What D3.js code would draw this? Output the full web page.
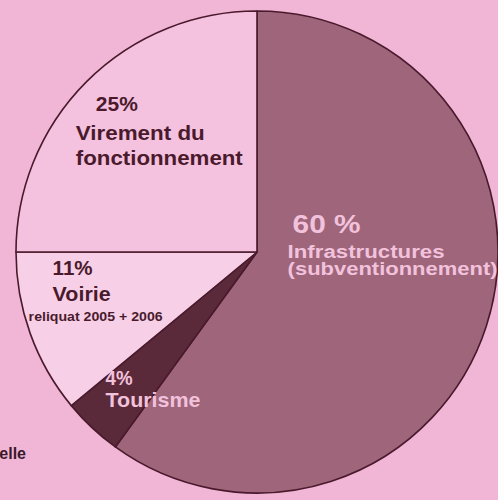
<!DOCTYPE html>
<html>
<head>
<meta charset="utf-8">
<script src="https://cdn.jsdelivr.net/npm/d3@7"></script>
<style>
  html, body { margin: 0; padding: 0; background: #f1b6d6; }
  svg { display: block; }
</style>
</head>
<body>
<script>
// data
var categories = ["Infrastructures", "Tourisme", "Voirie", "Virement"];
var values = [60, 4, 11, 25];
var sliceColors = ["#9e657b", "#5a2a3a", "#f7d0e8", "#f4c2df"];
var textColors = ["#f2c2dc", "#f2c2dc", "#4a1a2c", "#4a1a2c"];

// label lines per slice: text, offset from slice anchor, size, fitted width
var labelLines = [
  [["60 %", -79, -56, 25, 68], ["Infrastructures", -84, -31, 18, 157], ["(subventionnement)", -84, -14, 18, 210]],
  [["4%", -69, 45, 20, 27], ["Tourisme", -69, 67, 21, 95]],
  [["11%", -91, -18, 21, 40], ["Voirie", -91, 8, 21, 58], ["reliquat 2005 + 2006", -115, 28, 12, 134]],
  [["25%", -76, -56, 21, 42], ["Virement du", -96, -27, 21, 129], ["fonctionnement", -96, -2, 21, 167]]
];

// dimensions
var width = 498;
var height = 500;
var cx = 257, cy = 252, radius = 241;

var svg = d3.select("body")
  .append("svg")
  .attr("width", width)
  .attr("height", height);

var pie = d3.pie().sort(null).value(function (d) { return d; });
var arcs = pie(values);

var arc = d3.arc().innerRadius(0).outerRadius(radius);

var g = svg.append("g")
  .attr("transform", "translate(" + cx + "," + cy + ")");

// slices
g.selectAll("path.slice")
  .data(arcs)
  .enter()
  .append("path")
  .attr("class", "slice")
  .attr("d", arc)
  .style("fill", function (d, i) { return sliceColors[i]; })
  .style("stroke", "#4a1a2c")
  .style("stroke-width", "1.6px")
  .style("stroke-linejoin", "round");

// labels, anchored on the slice centroid
var labels = g.selectAll("g.label")
  .data(arcs)
  .enter()
  .append("g")
  .attr("class", "label")
  .attr("transform", function (d) {
    var c = arc.centroid(d);
    return "translate(" + c[0] + "," + c[1] + ")";
  });

labels.each(function (d, i) {
  d3.select(this).selectAll("text")
    .data(labelLines[i])
    .enter()
    .append("text")
    .attr("x", function (l) { return l[1]; })
    .attr("y", function (l) { return l[2]; })
    .attr("textLength", function (l) { return l[4]; })
    .attr("lengthAdjust", "spacingAndGlyphs")
    .style("font-family", "Liberation Sans, Arial, sans-serif")
    .style("font-weight", "bold")
    .style("font-size", function (l) { return l[3] + "px"; })
    .style("fill", textColors[i])
    .text(function (l) { return l[0]; });
});

// cut-off caption at the left edge
svg.append("text")
  .attr("x", 26)
  .attr("y", 459)
  .attr("text-anchor", "end")
  .style("font-family", "Liberation Sans, Arial, sans-serif")
  .style("font-weight", "bold")
  .style("font-size", "16px")
  .style("fill", "#3a1a28")
  .text("Source : annuelle");
</script>
</body>
</html>
